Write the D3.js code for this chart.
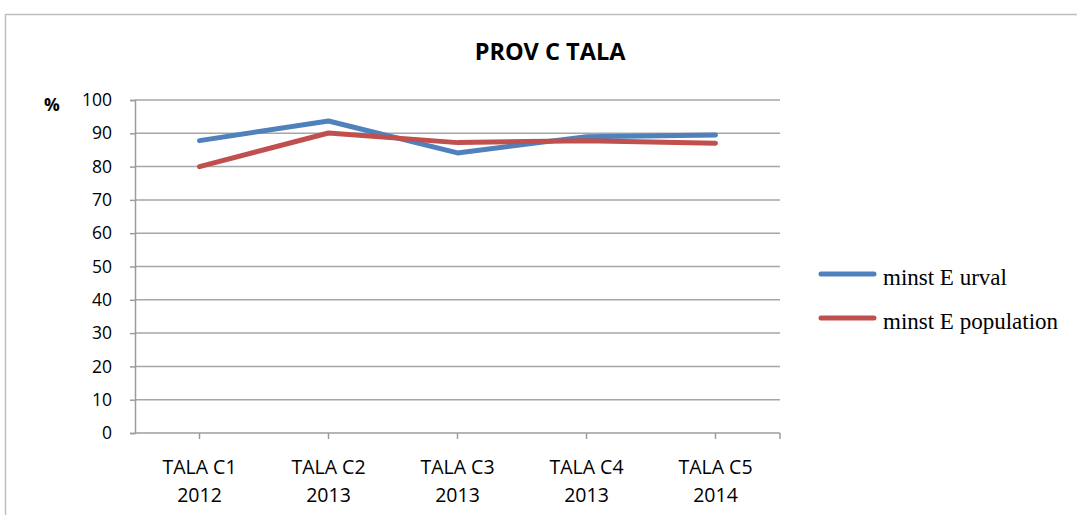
<!DOCTYPE html>
<html><head><meta charset="utf-8">
<script src="https://cdn.jsdelivr.net/npm/d3@7"></script>
<style>body{margin:0;background:#fff;} svg{display:block;}</style>
</head><body>
<svg id="c" width="1077" height="515"></svg>
<script>
const categories = ["TALA C1|2012","TALA C2|2013","TALA C3|2013","TALA C4|2013","TALA C5|2014"];
const seriesNames = ["minst E urval","minst E population"];
const urval = [87.8, 93.7, 84.1, 89.0, 89.5];
const population = [80.0, 90.1, 87.2, 87.8, 87.0];
const yTicks = [0,10,20,30,40,50,60,70,80,90,100];
const colors = ["#4F81BD","#C0504D"];

const sans = "'Open Sans', 'Liberation Sans', sans-serif";
const svg = d3.select("#c");
// outer frame
svg.append("rect").attr("x",5.5).attr("y",14.5).attr("width",1100).attr("height",600)
  .attr("fill","none").attr("stroke","#BFBFBF").attr("stroke-width",1.5);

const L=135, R=780, T=100, B=433;
const x = d3.scaleBand().domain(categories).range([L,R]);
const y = d3.scaleLinear().domain([0,100]).range([B,T]);

// gridlines
svg.append("g").selectAll("line").data(yTicks.filter(d=>d>0)).join("line")
  .attr("x1",L).attr("x2",R).attr("y1",d=>y(d)).attr("y2",d=>y(d))
  .attr("stroke","#A6A6A6").attr("stroke-width",1.5);

// y axis
const ya = svg.append("g").attr("transform",`translate(${L},0)`)
  .call(d3.axisLeft(y).tickValues(yTicks).tickSize(5).tickPadding(18));
ya.select(".domain").attr("stroke","#9C9C9C").attr("stroke-width",1.5);
ya.selectAll(".tick line").attr("stroke","#9C9C9C").attr("stroke-width",1.5);
ya.selectAll("text").attr("font-family",sans)
  .attr("font-size",17.5).attr("fill","#000");

svg.append("text").attr("x",52).attr("y",111).attr("text-anchor","middle")
  .attr("font-family",sans).attr("font-weight","bold")
  .attr("font-size",17.5).text("%");

// x axis
const xa = svg.append("g").attr("transform",`translate(0,${B})`)
  .call(d3.axisBottom(x).tickSize(6).tickFormat(""));
xa.select(".domain").attr("stroke","#9C9C9C").attr("stroke-width",1.5).attr("d",`M${L},0H${R}`);
xa.selectAll(".tick line").attr("stroke","#9C9C9C").attr("stroke-width",1.5);
svg.append("line").attr("x1",R).attr("x2",R).attr("y1",B).attr("y2",B+6)
  .attr("stroke","#9C9C9C").attr("stroke-width",1.5);
const xl = svg.append("g").selectAll("text").data(categories).join("text")
  .attr("x",d=>x(d)+x.bandwidth()/2).attr("text-anchor","middle")
  .attr("font-family",sans).attr("font-size",19.5).attr("fill","#000");
xl.append("tspan").attr("x",d=>x(d)+x.bandwidth()/2).attr("y",474).text(d=>d.split("|")[0]);
xl.append("tspan").attr("x",d=>x(d)+x.bandwidth()/2).attr("y",502).text(d=>d.split("|")[1]);

// lines
const line = d3.line().x((d,i)=>x(categories[i])+x.bandwidth()/2).y(d=>y(d));
[urval, population].forEach((s,i)=>{
  svg.append("path").datum(s).attr("d",line).attr("fill","none")
    .attr("stroke",colors[i]).attr("stroke-width",5).attr("stroke-linecap","round").attr("stroke-linejoin","round");
});

// title
svg.append("text").attr("x",550).attr("y",60).attr("text-anchor","middle")
  .attr("font-family",sans).attr("font-weight","bold")
  .attr("font-size",23.5).text("PROV C TALA");

// legend
const lg = svg.append("g");
seriesNames.forEach((n,i)=>{
  const yy = 274 + i*44;
  lg.append("line").attr("x1",821).attr("x2",874).attr("y1",yy).attr("y2",yy)
    .attr("stroke",colors[i]).attr("stroke-width",5).attr("stroke-linecap","round");
  lg.append("text").attr("x",883).attr("y",yy+11).attr("font-family","'Liberation Serif', 'Times New Roman', serif")
    .attr("font-size",23).text(n);
});
</script>
</body></html>
